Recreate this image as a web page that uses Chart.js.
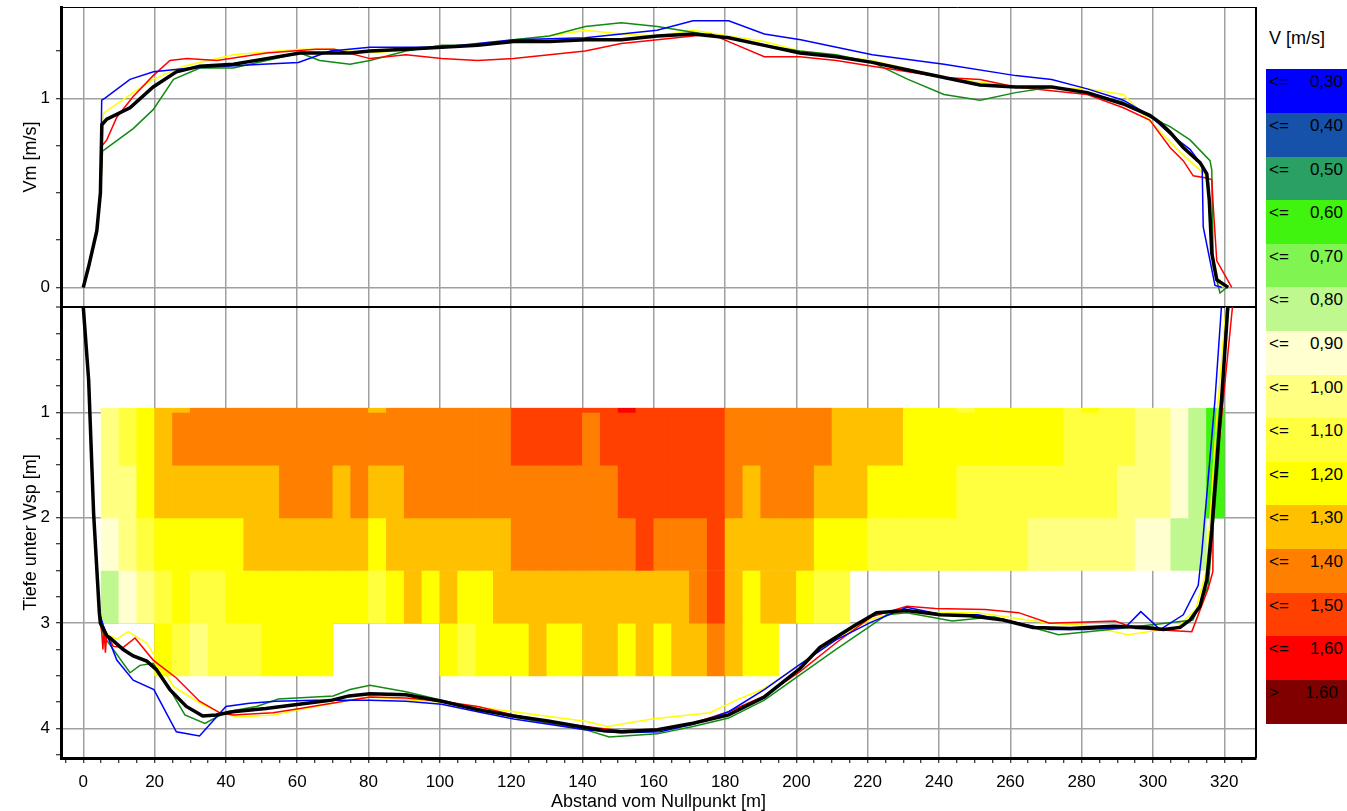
<!DOCTYPE html>
<html>
<head>
<meta charset="utf-8">
<title>Geschwindigkeitsverteilung</title>
<script src="https://cdn.jsdelivr.net/npm/chart.js@4.4.1/dist/chart.umd.min.js"></script>
<style>
  html, body { margin: 0; padding: 0; background: #fff; }
  body { width: 1347px; height: 811px; overflow: hidden; position: relative;
         font-family: "Liberation Sans", Arial, sans-serif; color: #000; }
  #chartBox { position: absolute; left: 0; top: 0; width: 1262px; height: 811px; }
  #legend { position: absolute; left: 1266px; top: 0; width: 81px; height: 811px; }
  .lg-title { position: absolute; left: 3px; top: 28px; font-size: 18px; white-space: nowrap; }
  .lg-box { position: absolute; left: 0; width: 81px; font-size: 17px; line-height: 20px; }
  .lg-op { position: absolute; left: 3px; top: 3px; }
  .lg-val { position: absolute; right: 4px; top: 3px; }
</style>
</head>
<body>
<div id="chartBox"><canvas id="profileChart" width="1262" height="811"></canvas></div>
<div id="legend"></div>
<script>
// Legende (Klassengrenzen V [m/s])
const legendLimits = [0.30, 0.40, 0.50, 0.60, 0.70, 0.80, 0.90, 1.00, 1.10, 1.20, 1.30, 1.40, 1.50, 1.60];
const legendColors = ['#0000ff', '#1652aa', '#2aa064', '#40f410', '#80f450', '#c0f890', '#ffffd0',
    '#ffff80', '#ffff40', '#ffff00', '#ffc000', '#ff8000', '#ff4000', '#ff0000', '#800000'];

// Zellen: Spaltenbeginn [m] und Tiefenbereiche [m]
const colStarts = [5, 10, 15, 20, 25, 30, 35, 40, 45, 50, 55, 60, 65, 70, 75, 80, 85, 90, 95, 100,
    105, 110, 115, 120, 125, 130, 135, 140, 145, 150, 155, 160, 165, 170, 175, 180, 185, 190, 195, 200,
    205, 210, 215, 220, 225, 230, 235, 240, 245, 250, 255, 260, 265, 270, 275, 280, 285, 290, 295, 300,
    305, 310, 315];
const rowTops    = [0.96, 1.0, 1.5, 2.0, 2.5, 3.0];
const rowBottoms = [1.0, 1.5, 2.0, 2.5, 3.0, 3.5];

// Zellgeschwindigkeiten je Tiefenreihe [m/s]
const vRow0 = [0.95, 1.05, 1.15, 1.25, 1.25, 1.35, 1.35, 1.35, 1.35, 1.35,
    1.35, 1.35, 1.35, 1.35, 1.35, 1.25, 1.35, 1.35, 1.35, 1.35,
    1.35, 1.35, 1.35, 1.45, 1.45, 1.45, 1.45, 1.45, 1.45, 1.55,
    1.45, 1.45, 1.45, 1.45, 1.45, 1.35, 1.35, 1.35, 1.35, 1.35,
    1.35, 1.25, 1.25, 1.25, 1.25, 1.15, 1.15, 1.15, 1.05, 1.15,
    1.15, 1.15, 1.15, 1.15, 1.05, 1.15, 1.05, 1.05, 0.95, 0.95,
    0.85, 0.75, 0.55];
const vRow1 = [0.95, 1.05, 1.15, 1.25, 1.35, 1.35, 1.35, 1.35, 1.35, 1.35,
    1.35, 1.35, 1.35, 1.35, 1.35, 1.35, 1.35, 1.35, 1.35, 1.35,
    1.35, 1.35, 1.35, 1.45, 1.45, 1.45, 1.45, 1.35, 1.45, 1.45,
    1.45, 1.45, 1.45, 1.45, 1.45, 1.35, 1.35, 1.35, 1.35, 1.35,
    1.35, 1.25, 1.25, 1.25, 1.25, 1.15, 1.15, 1.15, 1.15, 1.15,
    1.15, 1.15, 1.15, 1.15, 1.05, 1.05, 1.05, 1.05, 0.95, 0.95,
    0.85, 0.75, 0.55];
const vRow2 = [0.95, 0.95, 1.15, 1.25, 1.25, 1.25, 1.25, 1.25, 1.25, 1.25,
    1.35, 1.35, 1.35, 1.25, 1.35, 1.25, 1.25, 1.35, 1.35, 1.35,
    1.35, 1.35, 1.35, 1.35, 1.35, 1.35, 1.35, 1.35, 1.35, 1.45,
    1.45, 1.45, 1.45, 1.45, 1.45, 1.35, 1.25, 1.35, 1.35, 1.35,
    1.25, 1.25, 1.25, 1.15, 1.15, 1.15, 1.15, 1.15, 1.05, 1.05,
    1.05, 1.05, 1.05, 1.05, 1.05, 1.05, 1.05, 0.95, 0.95, 0.95,
    0.85, 0.75, 0.55];
const vRow3 = [0.85, 0.95, 1.05, 1.15, 1.15, 1.15, 1.15, 1.15, 1.25, 1.25,
    1.25, 1.25, 1.25, 1.25, 1.25, 1.15, 1.25, 1.25, 1.25, 1.25,
    1.25, 1.25, 1.25, 1.35, 1.35, 1.35, 1.35, 1.35, 1.35, 1.35,
    1.45, 1.35, 1.35, 1.35, 1.45, 1.25, 1.25, 1.25, 1.25, 1.25,
    1.15, 1.15, 1.15, 1.05, 1.05, 1.05, 1.05, 1.05, 1.05, 1.05,
    1.05, 1.05, 0.95, 0.95, 0.95, 0.95, 0.95, 0.95, 0.85, 0.85,
    0.75, 0.75, null];
const vRow4 = [0.75, 0.85, 0.95, 1.05, 1.15, 1.05, 1.05, 1.15, 1.15, 1.15,
    1.15, 1.15, 1.15, 1.15, 1.15, 1.05, 1.15, 1.25, 1.15, 1.25,
    1.15, 1.15, 1.25, 1.25, 1.25, 1.25, 1.25, 1.25, 1.25, 1.25,
    1.25, 1.25, 1.25, 1.35, 1.45, 1.25, 1.15, 1.25, 1.25, 1.15,
    1.05, 1.05, null, null, null, null, null, null, null, null,
    null, null, null, null, null, null, null, null, null, null,
    null, null, null];
const vRow5 = [null, null, null, 1.15, 1.05, 0.95, 1.05, 1.05, 1.05, 1.15,
    1.15, 1.15, 1.15, null, null, null, null, null, null, 1.15,
    1.05, 1.15, 1.15, 1.15, 1.25, 1.15, 1.15, 1.25, 1.25, 1.15,
    1.25, 1.15, 1.25, 1.25, 1.35, 1.25, 1.15, 1.15, null, null,
    null, null, null, null, null, null, null, null, null, null,
    null, null, null, null, null, null, null, null, null, null,
    null, null, null];

// Mittlere Geschwindigkeit Vm [m/s] je Messung: [Abstand, Vm]
const vmBlue = [[0, 0], [1.5, 0.11], [3.8, 0.30], [4.8, 0.50], [5.16, 0.99], [6, 1.00], [13.1, 1.10], [19.7, 1.14],
    [30, 1.16], [40, 1.17], [50.2, 1.18], [60.3, 1.19], [69.3, 1.25], [80.4, 1.27], [100.5, 1.27], [120.7, 1.31],
    [140.8, 1.32], [160.9, 1.36], [171, 1.41], [181, 1.41], [191, 1.34], [201.2, 1.31], [221.3, 1.23], [241.4, 1.18],
    [261.5, 1.12], [271.6, 1.10], [281.6, 1.05], [291.7, 0.99], [299.1, 0.91], [304.8, 0.81], [310.4, 0.73],
    [313.2, 0.66], [313.8, 0.64], [314.1, 0.32], [317.4, 0.01], [319.3, 0]];
const vmRed = [[0, 0], [1.5, 0.11], [3.8, 0.30], [4.8, 0.50], [5.3, 0.75], [6.6, 0.78], [9.4, 0.90], [14, 1.01],
    [19.6, 1.12], [24.3, 1.20], [29, 1.21], [37.5, 1.20], [51.4, 1.24], [65.3, 1.26], [70.4, 1.26], [80.4, 1.21],
    [90.5, 1.23], [100.5, 1.21], [110.6, 1.20], [120.7, 1.21], [130.7, 1.23], [140.8, 1.25], [150.9, 1.29],
    [161, 1.31], [171, 1.33], [176, 1.34], [181, 1.30], [191, 1.22], [201, 1.22], [211.2, 1.20], [221.3, 1.17],
    [231.3, 1.14], [241.4, 1.11], [251.5, 1.10], [261.5, 1.06], [271.6, 1.04], [281.6, 1.02], [291.7, 0.95],
    [299.1, 0.885], [304.8, 0.74], [308.5, 0.67], [311.3, 0.59], [314.6, 0.58], [316.5, 0.57], [316.9, 0.43],
    [317.9, 0.14], [322.1, 0]];
const vmGreen = [[0, 0], [1.5, 0.11], [3.8, 0.30], [4.8, 0.50], [5.4, 0.72], [7.5, 0.75], [14, 0.84], [19.6, 0.94],
    [25.3, 1.10], [32.7, 1.16], [42.1, 1.16], [51.4, 1.20], [60.8, 1.24], [66.3, 1.20], [74.8, 1.18], [80.4, 1.20],
    [90.5, 1.25], [100.5, 1.28], [110.6, 1.28], [120.7, 1.31], [130.7, 1.33], [140.8, 1.38], [150.9, 1.40],
    [161, 1.38], [171, 1.35], [181, 1.32], [191, 1.28], [201, 1.25], [211.2, 1.23], [221.3, 1.19], [231.3, 1.10],
    [241.4, 1.02], [251.5, 0.99], [261.5, 1.03], [271.6, 1.06], [281.6, 1.03], [291.7, 0.98], [299.1, 0.90],
    [304.8, 0.85], [310.4, 0.78], [316, 0.67], [316.5, 0.62], [316.9, 0.11], [318.8, -0.03], [320.7, 0]];
const vmYellow = [[0, 0], [1.5, 0.11], [3.8, 0.30], [4.8, 0.50], [5.6, 0.92], [14, 1.03], [19.6, 1.10], [28.1, 1.17],
    [42.1, 1.23], [60.8, 1.26], [70.1, 1.26], [80.4, 1.24], [100.5, 1.27], [120.7, 1.31], [130.7, 1.33],
    [140.8, 1.36], [150.9, 1.34], [161, 1.33], [171, 1.36], [181, 1.33], [191, 1.30], [201, 1.25], [221.3, 1.20],
    [241.4, 1.11], [261.5, 1.06], [281.6, 1.05], [291.7, 1.02], [301.8, 0.83], [306.8, 0.73], [312, 0.64],
    [315.5, 0.58], [316.5, 0.20], [318.5, 0.02], [320.5, 0]];
const vmBlack = [[0, 0], [1.5, 0.11], [3.8, 0.30], [4.8, 0.50], [5.2, 0.86], [6.6, 0.89], [13.1, 0.95], [19.6, 1.06],
    [26.1, 1.14], [32.7, 1.17], [42.1, 1.18], [51.4, 1.21], [60.8, 1.24], [74.8, 1.24], [80.4, 1.25], [90.5, 1.26],
    [100.5, 1.27], [110.6, 1.28], [120.7, 1.30], [130.7, 1.30], [140.8, 1.31], [150.9, 1.31], [161, 1.33],
    [171, 1.34], [181, 1.32], [191, 1.28], [201, 1.24], [211.2, 1.22], [221.3, 1.19], [231.3, 1.15], [241.4, 1.11],
    [251.5, 1.07], [261.5, 1.06], [271.6, 1.06], [281.6, 1.03], [291.7, 0.97], [299.1, 0.91], [302, 0.87],
    [304.8, 0.82], [308.5, 0.74], [313.2, 0.66], [315.1, 0.60], [315.8, 0.46], [316.5, 0.18], [317.9, 0.04],
    [321.1, 0]];

// Sohle: Tiefe unter Wasserspiegel [m] je Messung: [Abstand, Tiefe]
const bedBlue = [[0, 0], [1.5, 0.69], [2.9, 1.96], [4.5, 2.9], [5.7, 3.03], [9.4, 3.35], [14, 3.54], [19.8, 3.63],
    [26.1, 4.03], [32.6, 4.07], [40, 3.79], [46.6, 3.76], [54, 3.74], [65.1, 3.73], [80.4, 3.73], [90.5, 3.74],
    [100.5, 3.77], [110.6, 3.84], [120.7, 3.91], [140.8, 4.01], [150.9, 4.04], [161.8, 4.03], [171, 3.96],
    [181, 3.84], [191, 3.63], [201, 3.39], [211, 3.16], [221, 2.99], [231, 2.85], [241, 2.92], [251, 2.92],
    [261, 2.99], [271, 3.06], [281, 3.06], [292.2, 3.04], [296.6, 2.89], [302, 3.06], [308.5, 2.92],
    [312.7, 2.64], [313.7, 2.33], [317.4, 0.88], [319.2, 0]];
const bedRed = [[0, 0], [1.5, 0.69], [2.9, 1.96], [4.5, 2.9], [5.2, 3.10], [5.5, 3.25], [5.8, 3.05], [6.2, 3.28],
    [6.6, 3.10], [8.4, 3.22], [11.2, 3.23], [14.5, 3.14], [19.6, 3.35], [26.1, 3.52], [32.6, 3.74], [38.3, 3.85],
    [42, 3.87], [53.2, 3.85], [60.8, 3.81], [74.8, 3.73], [80.4, 3.70], [90.5, 3.71], [100.5, 3.74], [110.6, 3.79],
    [120.7, 3.87], [130.7, 3.94], [140.8, 3.98], [150.9, 4.02], [161, 4.01], [171, 3.95], [181, 3.84], [191, 3.69],
    [201, 3.46], [211, 3.19], [221, 2.94], [231, 2.84], [239, 2.86], [253, 2.87], [262.3, 2.90], [271, 3.00],
    [289.4, 2.98], [295, 3.05], [310.9, 3.08], [315.5, 2.67], [316.8, 2.51], [316.9, 1.84], [322.3, 0]];
const bedGreen = [[0, 0], [1.5, 0.69], [2.9, 1.96], [4.5, 2.9], [5.7, 3.12], [13.1, 3.47], [15.9, 3.40], [19.6, 3.38],
    [23.3, 3.57], [28.5, 3.87], [34.1, 3.95], [40.2, 3.84], [48.6, 3.79], [54.7, 3.72], [70.1, 3.69], [74.8, 3.63],
    [80.4, 3.59], [90.5, 3.65], [100.5, 3.73], [120.7, 3.89], [140.8, 4.01], [147.5, 4.08], [161, 4.05],
    [171, 3.98], [181, 3.90], [191, 3.73], [201, 3.49], [211, 3.25], [221, 3.02], [225.3, 2.92], [231, 2.90],
    [243.7, 2.98], [255.4, 2.94], [273.5, 3.11], [290.7, 3.05], [311.2, 2.97], [315.5, 2.65], [318.3, 1.5],
    [320.7, 0]];
const bedYellow = [[0, 0], [1.5, 0.69], [2.9, 1.96], [4.5, 2.9], [5.7, 3.09], [9.4, 3.15], [12.6, 3.08], [17.8, 3.19],
    [25.3, 3.60], [32.8, 3.76], [38.4, 3.85], [43.5, 3.89], [53.3, 3.87], [60.8, 3.82], [70.1, 3.76], [80.4, 3.70],
    [100.5, 3.75], [120.7, 3.84], [140.8, 3.93], [147, 3.98], [159.5, 3.91], [175.8, 3.85], [183.7, 3.72],
    [191, 3.62], [201, 3.39], [211, 3.15], [221, 2.96], [231, 2.88], [241, 2.90], [251, 2.90], [261, 2.95],
    [271, 3.00], [281, 3.02], [293, 3.11], [306.7, 3.04], [312, 2.87], [315, 2.50], [318, 1.0], [320.5, 0]];
const bedBlack = [[0, 0], [1.5, 0.69], [2.9, 1.96], [4.5, 2.9], [4.8, 3.0], [6.6, 3.12], [7.5, 3.14], [11.2, 3.25],
    [14, 3.31], [17.8, 3.36], [20.5, 3.44], [24.3, 3.63], [28.9, 3.79], [33.5, 3.88], [37.3, 3.87], [41.9, 3.84],
    [51.2, 3.81], [60.5, 3.77], [69.8, 3.73], [74.5, 3.69], [80.4, 3.67], [90.5, 3.68], [100.5, 3.74],
    [110.6, 3.82], [120.7, 3.88], [130.7, 3.93], [140.8, 3.99], [146, 4.02], [151, 4.03], [161, 4.01], [171, 3.95],
    [181, 3.87], [191, 3.70], [201, 3.43], [206.6, 3.23], [216, 3.03], [222.5, 2.90], [230.9, 2.88], [240.3, 2.92],
    [248.7, 2.93], [258, 2.97], [266.4, 3.04], [276.7, 3.05], [288.9, 3.03], [298.3, 3.04], [302.9, 3.06],
    [307.6, 3.04], [310.4, 2.97], [313.2, 2.84], [315.1, 2.59], [316.5, 2.11], [317.9, 1.48], [319.3, 0.85],
    [321, 0]];

/**
 * Farbe der Geschwindigkeitsklasse
 */
function colorForVelocity(v) {
    for (let i = 0; i < legendLimits.length; i++) {
        if (v <= legendLimits[i]) return legendColors[i];
    }
    return legendColors[legendColors.length - 1];
}

/**
 * Legende als HTML aufbauen
 */
function buildLegend() {
    const box = document.getElementById('legend');
    const title = document.createElement('div');
    title.className = 'lg-title';
    title.textContent = 'V [m/s]';
    box.appendChild(title);

    const top0 = 69.3, h = 43.6;
    legendColors.forEach((color, i) => {
        const item = document.createElement('div');
        item.className = 'lg-box';
        item.style.top = (top0 + i * h) + 'px';
        item.style.height = (h + 0.5) + 'px';
        item.style.background = color;
        const last = i === legendLimits.length;
        const op = document.createElement('span');
        op.className = 'lg-op';
        op.textContent = last ? '>' : '<=';
        const val = document.createElement('span');
        val.className = 'lg-val';
        if (last) val.style.right = '9px';
        val.textContent = legendLimits[last ? i - 1 : i].toFixed(2).replace('.', ',');
        item.appendChild(op);
        item.appendChild(val);
        box.appendChild(item);
    });
}

function cellDataset(values, r) {
    const data = [];
    values.forEach((v, k) => {
        if (v === null) return;
        data.push({ x: colStarts[k] + 2.5, y: [rowTops[r], rowBottoms[r]], v: v });
    });
    return {
        type: 'bar',
        data: data,
        xAxisID: 'x',
        yAxisID: 'yD',
        grouped: false,
        barPercentage: 1,
        categoryPercentage: 1,
        borderWidth: 0,
        backgroundColor: ctx => (ctx.raw ? colorForVelocity(ctx.raw.v) : '#ffffff'),
        order: 5
    };
}

function lineDataset(points, color, width, axis, order) {
    return {
        type: 'line',
        data: points.map(p => ({ x: p[0], y: p[1] })),
        borderColor: color,
        borderWidth: width,
        pointRadius: 0,
        tension: 0,
        fill: false,
        xAxisID: 'x',
        yAxisID: axis,
        order: order
    };
}

// Rahmen oben und rechts
const framePlugin = {
    id: 'frame',
    afterDatasetsDraw(chart) {
        const { ctx, chartArea: a } = chart;
        ctx.save();
        ctx.strokeStyle = '#000';
        ctx.lineWidth = 1;
        ctx.beginPath();
        ctx.moveTo(a.left, a.top + 0.5);
        ctx.lineTo(a.right, a.top + 0.5);
        ctx.stroke();
        ctx.lineWidth = 2;
        ctx.beginPath();
        ctx.moveTo(a.right, a.top);
        ctx.lineTo(a.right, a.bottom);
        ctx.stroke();
        ctx.restore();
    }
};

function fitVertical(s) {
    s.width = 45;
    s.paddingTop = 0;
    s.paddingBottom = 0;
}

document.addEventListener('DOMContentLoaded', function () {
    buildLegend();
    initializeProfileChart();
});

function initializeProfileChart() {
    const canvas = document.getElementById('profileChart');
    if (!canvas) return;

    Chart.defaults.font.family = '"Liberation Sans", Arial, sans-serif';
    Chart.defaults.color = '#000';

    const rows = [vRow0, vRow1, vRow2, vRow3, vRow4, vRow5];
    const datasets = [
        lineDataset(vmBlack, '#000000', 3.5, 'yV', 0),
        lineDataset(bedBlack, '#000000', 3.5, 'yD', 0),
        lineDataset(vmBlue, '#0000ff', 1.5, 'yV', 1),
        lineDataset(vmRed, '#ff0000', 1.5, 'yV', 1),
        lineDataset(vmGreen, '#128a12', 1.5, 'yV', 1),
        lineDataset(vmYellow, '#ffff00', 1.5, 'yV', 1),
        lineDataset(bedBlue, '#0000ff', 1.5, 'yD', 1),
        lineDataset(bedRed, '#ff0000', 1.5, 'yD', 1),
        lineDataset(bedGreen, '#128a12', 1.5, 'yD', 1),
        lineDataset(bedYellow, '#ffff00', 1.5, 'yD', 1)
    ].concat(rows.map((vals, r) => cellDataset(vals, r)));

    const gridGray = '#a0a0a0';

    try {
        new Chart(canvas, {
            type: 'line',
            data: { datasets: datasets },
            plugins: [framePlugin],
            options: {
                responsive: false,
                animation: false,
                events: [],
                devicePixelRatio: 1,
                layout: { padding: { top: 7, right: 6, left: 16, bottom: 0 } },
                plugins: { legend: { display: false }, tooltip: { enabled: false } },
                scales: {
                    x: {
                        type: 'linear',
                        position: 'bottom',
                        min: -6.25,
                        max: 328.9,
                        offset: false,
                        afterFit: s => { s.height = 53; s.paddingLeft = 0; s.paddingRight = 0; },
                        border: { display: true, color: '#000', width: 3 },
                        grid: {
                            offset: false,
                            color: c => (c.tick && c.tick.value % 20 === 0 ? gridGray : 'rgba(0,0,0,0)'),
                            lineWidth: 1.5,
                            tickColor: '#000',
                            tickLength: 5,
                            tickWidth: 1
                        },
                        ticks: {
                            stepSize: 5,
                            includeBounds: false,
                            autoSkip: false,
                            maxRotation: 0,
                            padding: 9,
                            font: { size: 17 },
                            callback: v => (v % 20 === 0 ? String(v) : '')
                        },
                        title: {
                            display: true,
                            text: 'Abstand vom Nullpunkt [m]',
                            font: { size: 18, lineHeight: 1 },
                            padding: { top: 0, bottom: 0 }
                        }
                    },
                    yD: {
                        type: 'linear',
                        position: 'left',
                        stack: 'panels',
                        stackWeight: 451,
                        reverse: true,
                        min: 0,
                        max: 4.279,
                        afterFit: fitVertical,
                        border: { display: true, color: '#000', width: 3 },
                        grid: {
                            color: c => {
                                const v = c.tick ? c.tick.value : 0.5;
                                if (v === 0) return '#000';
                                return Number.isInteger(v) ? gridGray : 'rgba(0,0,0,0)';
                            },
                            lineWidth: c => (c.tick && c.tick.value === 0 ? 2 : 1.5),
                            tickColor: '#000',
                            tickLength: 5,
                            tickWidth: 1
                        },
                        ticks: {
                            stepSize: 0.25,
                            includeBounds: false,
                            autoSkip: false,
                            padding: 6,
                            font: { size: 17 },
                            callback: v => (Number.isInteger(v) && v > 0 ? String(v) : '')
                        },
                        title: {
                            display: true,
                            text: 'Tiefe unter Wsp [m]',
                            font: { size: 18 },
                            padding: { top: 4, bottom: 0 }
                        }
                    },
                    yV: {
                        type: 'linear',
                        position: 'left',
                        stack: 'panels',
                        stackWeight: 300,
                        min: -0.104,
                        max: 1.483,
                        afterFit: fitVertical,
                        border: { display: true, color: '#000', width: 3 },
                        grid: {
                            color: c => (c.tick && Number.isInteger(c.tick.value) ? gridGray : 'rgba(0,0,0,0)'),
                            lineWidth: 1.5,
                            tickColor: '#000',
                            tickLength: 5,
                            tickWidth: 1
                        },
                        ticks: {
                            stepSize: 0.25,
                            includeBounds: false,
                            autoSkip: false,
                            padding: 6,
                            font: { size: 17 },
                            callback: v => (Number.isInteger(v) ? String(v) : '')
                        },
                        title: {
                            display: true,
                            text: 'Vm [m/s]',
                            font: { size: 18 },
                            padding: { top: 4, bottom: 0 }
                        }
                    }
                }
            }
        });
    } catch (error) {
        console.error('Fehler beim Erstellen des Diagramms:', error);
    }
}
</script>
</body>
</html>
